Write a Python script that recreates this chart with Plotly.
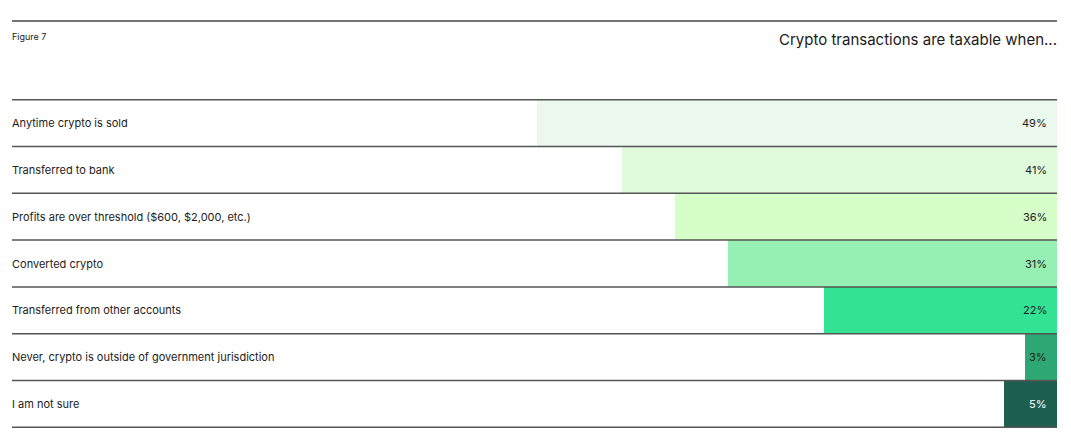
import plotly.graph_objects as go

categories = [
    "Anytime crypto is sold",
    "Transferred to bank",
    "Profits are over threshold ($600, $2,000, etc.)",
    "Converted crypto",
    "Transferred from other accounts",
    "Never, crypto is outside of government jurisdiction",
    "I am not sure",
]
values = [49, 41, 36, 31, 22, 3, 5]
colors = ["#EBF8ED", "#E0FBDC", "#D6FEC8", "#96F0B4", "#33E292", "#2DA874", "#1E5E50"]
label_colors = ["#222222"] * 6 + ["#FFFFFF"]

FONT = "Inter, Liberation Sans, Arial, sans-serif"

fig = go.Figure()
fig.add_trace(go.Bar(
    x=values, y=categories, orientation="h",
    marker=dict(color=colors, line=dict(width=0)),
    hoverinfo="skip",
))

# page body has an 8px margin; size the figure so it fits the window
W, H = 1055, 425
ml, mr, mt, mb = 4, 6, 91, 5
ph = H - mt - mb

shapes = []
for i in range(len(categories) + 1):
    shapes.append(dict(type="line", xref="paper", yref="y",
                       x0=0, x1=1, y0=i - 0.5, y1=i - 0.5,
                       line=dict(color="#555555", width=1.5), layer="above"))
shapes.append(dict(type="line", xref="paper", yref="paper",
                   x0=0, x1=1, y0=1 + (mt - 13) / ph, y1=1 + (mt - 13) / ph,
                   line=dict(color="#444444", width=1.5)))

annotations = []
for c in categories:
    annotations.append(dict(x=0, xref="paper", y=c, yref="y", text=c,
                            xanchor="left", xshift=-2, showarrow=False,
                            font=dict(family=FONT, size=11, color="#222222")))
for c, v, lc in zip(categories, values, label_colors):
    annotations.append(dict(x=0, xref="x", y=c, yref="y", text=f"{v}%",
                            xanchor="right", xshift=-8, showarrow=False,
                            font=dict(family=FONT, size=11, color=lc)))
annotations.append(dict(x=0, xref="paper", y=1 + (mt - 29) / ph, yref="paper",
                        text="Figure 7", xanchor="left", xshift=-2, yanchor="middle",
                        showarrow=False, font=dict(family=FONT, size=9, color="#222222")))
annotations.append(dict(x=1, xref="paper", y=1 + (mt - 31) / ph, yref="paper",
                        text="Crypto transactions are taxable when...", xanchor="right",
                        xshift=2, yanchor="middle", showarrow=False,
                        font=dict(family=FONT, size=15, color="#1a1a1a")))

fig.update_layout(
    width=W, height=H,
    margin=dict(l=ml, r=mr, t=mt, b=mb),
    paper_bgcolor="white", plot_bgcolor="white",
    bargap=0, showlegend=False,
    xaxis=dict(range=[98.5, 0], visible=False, fixedrange=True),
    yaxis=dict(autorange="reversed", visible=False, fixedrange=True),
    shapes=shapes, annotations=annotations,
)

fig.write_html("out.html")
